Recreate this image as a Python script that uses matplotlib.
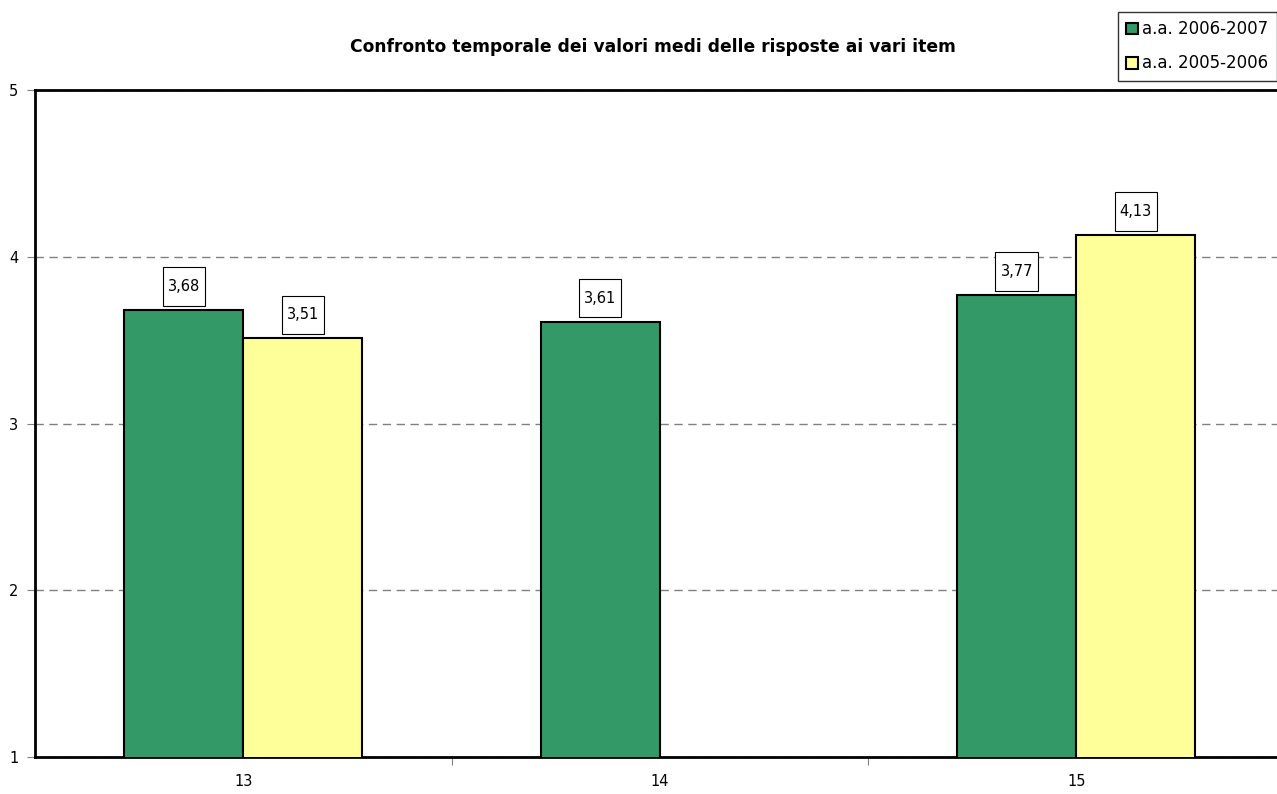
import matplotlib.pyplot as plt
from matplotlib.path import Path
import numpy as np

# dati
categorie = ['13', '14', '15']
serie_2006_2007 = [3.68, 3.61, 3.77]
serie_2005_2006 = [3.51, np.nan, 4.13]
nomi_serie = ['a.a. 2006-2007', 'a.a. 2005-2006']
colori = ['#339966', '#FFFF99']


# riquadro delle etichette: poco margine ai lati, molto sopra e sotto
def riquadro(x0, y0, width, height, mutation_size):
    px = 0.35 * mutation_size
    py = 0.8 * mutation_size
    x0, y0 = x0 - px, y0 - py
    x1, y1 = x0 + width + 2 * px, y0 + height + 2 * py
    return Path([(x0, y0), (x1, y0), (x1, y1), (x0, y1), (x0, y0)], closed=True)


fig = plt.figure(figsize=(12.77, 7.94), dpi=100)
ax = fig.add_axes([35 / 1277, 1 - 757 / 794, 1249.5 / 1277, 667 / 794])

x = np.arange(len(categorie))
w = 0.2857

barre = []
for i, (valori, nome, col) in enumerate(zip([serie_2006_2007, serie_2005_2006], nomi_serie, colori)):
    b = ax.bar(x + (i - 0.5) * w, valori, w, color=col, edgecolor='black',
               linewidth=1.5, label=nome, zorder=3)
    barre.append(b)
    for xi, v in zip(x, valori):
        if np.isnan(v):
            continue
        ax.annotate(f'{v:.2f}'.replace('.', ','), (xi + (i - 0.5) * w, v),
                    xytext=(0, 17), textcoords='offset points', ha='center', va='center',
                    fontsize=10.5, zorder=5,
                    bbox=dict(boxstyle=riquadro, fc='white', ec='black', lw=0.8))

ax.set_ylim(1, 5)
ax.set_xlim(-0.5, 2.5)
ax.set_yticks([1, 2, 3, 4, 5])
ax.set_yticklabels(['1', '2', '3', '4', '5'], fontsize=10.5)
ax.yaxis.grid(True, linestyle=(0, (6, 4)), color='#808080', linewidth=1, zorder=0)
ax.set_axisbelow(True)

# tick delle categorie ai bordi, etichette al centro
ax.set_xticks([0.5, 1.5])
ax.set_xticklabels([])
ax.set_xticks(x, minor=True)
ax.set_xticklabels(categorie, minor=True, fontsize=10.5)
ax.tick_params(axis='x', which='minor', length=0, pad=12)
ax.tick_params(axis='x', which='major', length=6, color='#808080', direction='out')
ax.tick_params(axis='y', length=6, color='#808080', direction='out', pad=6)

for s in ['left', 'bottom', 'top']:
    ax.spines[s].set_linewidth(2)
ax.spines['right'].set_visible(False)

fig.text(653 / 1277, 1 - 47 / 794, 'Confronto temporale dei valori medi delle risposte ai vari item',
         ha='center', va='center', fontsize=12.3, fontweight='bold')

leg = fig.legend(handles=barre, labels=nomi_serie, loc='upper left',
                 bbox_to_anchor=(1118 / 1277, 1 - 12 / 794), fontsize=12, frameon=True,
                 fancybox=False, edgecolor='black', handlelength=0.7, handleheight=0.7,
                 handletextpad=0.25, borderpad=0.5, labelspacing=0.97, borderaxespad=0)
leg.get_frame().set_linewidth(1)
for h in leg.legend_handles:
    h.set_linewidth(1.5)

plt.savefig('out.png', dpi=100)
plt.close()
